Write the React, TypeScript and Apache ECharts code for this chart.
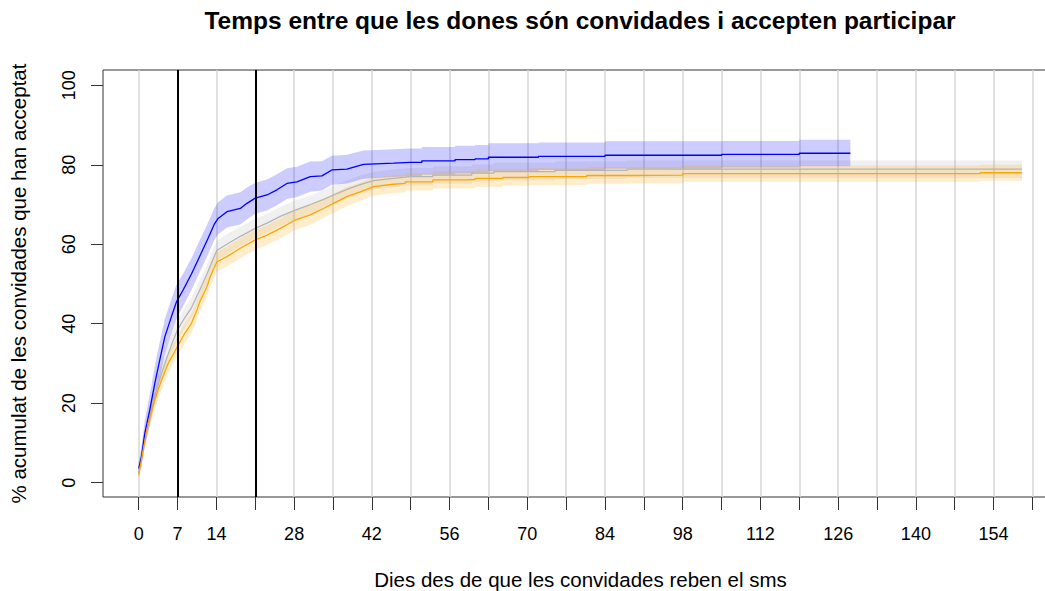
import React, { useEffect, useRef } from "react";
import * as echarts from "echarts";

// ---- axis ticks / labels ----
const xTickValues = [0, 7, 14, 21, 28, 35, 42, 49, 56, 63, 70, 77, 84, 91, 98, 105, 112, 119, 126, 133, 140, 147, 154, 161];
const xLabelValues = [0, 7, 14, 28, 42, 56, 70, 84, 98, 112, 126, 140, 154];
const yTickValues = [0, 20, 40, 60, 80, 100];
const markerDays = [7, 21];

// ---- blue group ----
const blueDays = [0, 0.5, 1.1, 2.0, 2.9, 3.8, 4.7, 5.9, 6.8, 8.0, 9.5, 11.0, 12.5, 13.6, 14.3, 15.9, 18.3, 19.5, 21.0, 23.1, 24.9, 26.7, 28.5, 30.9, 33.0, 34.8, 37.5, 40.5, 45.9, 48.9, 51, 51, 57, 57, 60.6, 60.6, 63, 63, 72, 72, 84, 84, 105, 105, 119, 119, 128.2];
const blueEst = [3.6, 6.5, 12.4, 18.3, 25.0, 30.9, 36.7, 41.8, 45.5, 48.5, 52.5, 57.0, 61.5, 65.0, 66.5, 68.2, 69.0, 70.3, 71.6, 72.4, 73.7, 75.3, 75.7, 77.0, 77.2, 78.7, 78.9, 80.1, 80.4, 80.6, 80.6, 81.0, 81.0, 81.3, 81.3, 81.5, 81.5, 81.9, 81.9, 82.1, 82.1, 82.4, 82.4, 82.6, 82.6, 82.9, 82.9];
const blueLo = [2.1, 4.0, 9.0, 14.4, 20.6, 26.4, 32.2, 37.4, 41.2, 44.4, 48.5, 53.0, 57.5, 61.0, 62.5, 64.2, 65.0, 66.3, 67.7, 68.5, 69.8, 71.4, 71.9, 73.2, 73.5, 75.0, 75.3, 76.5, 76.9, 77.1, 77.1, 77.5, 77.5, 77.8, 77.8, 78.0, 78.0, 78.4, 78.4, 78.7, 78.7, 79.0, 79.0, 79.3, 79.3, 79.6, 79.6];
const blueHi = [5.1, 9.0, 15.8, 22.2, 29.4, 35.4, 41.2, 46.2, 49.8, 52.6, 56.5, 61.0, 65.5, 69.0, 70.6, 72.3, 73.1, 74.3, 75.5, 76.3, 77.6, 79.1, 79.5, 80.8, 80.9, 82.3, 82.5, 83.6, 83.9, 84.1, 84.1, 84.5, 84.5, 84.8, 84.8, 85.0, 85.0, 85.4, 85.4, 85.6, 85.6, 85.9, 85.9, 86.0, 86.0, 86.3, 86.3];

// ---- orange group ----
const orangeDays = [0, 0.8, 1.7, 2.9, 4.1, 5.3, 6.8, 8.3, 9.5, 10.5, 11.0, 12.3, 12.8, 13.4, 14.1, 15.9, 18.3, 21.0, 23.1, 25.5, 28.2, 30.9, 33.3, 35.1, 37.5, 39.9, 42.3, 45.9, 48, 48, 53, 53, 59, 59, 60.6, 60.6, 65.6, 65.6, 70.3, 70.3, 80.7, 80.7, 88.5, 88.5, 98, 98, 151.6, 151.6, 159.1];
const orangeEst = [1.9, 8.2, 14.9, 20.8, 25.8, 30.0, 33.8, 37.6, 40.1, 43.5, 45.5, 49.3, 51.5, 53.5, 55.6, 56.9, 59.0, 61.1, 62.3, 64.0, 66.1, 67.4, 69.0, 70.3, 72.0, 73.2, 74.5, 75.1, 75.3, 75.7, 75.7, 76.2, 76.2, 76.3, 76.3, 76.6, 76.6, 76.8, 76.8, 77.0, 77.0, 77.3, 77.3, 77.4, 77.4, 77.75, 77.75, 78.0, 78.0];
const orangeLo = [1.0, 6.7, 12.9, 18.5, 23.3, 27.5, 31.3, 35.1, 37.6, 41.0, 43.0, 46.8, 49.0, 51.0, 53.1, 54.4, 56.5, 58.6, 59.8, 61.5, 63.6, 64.9, 66.6, 67.9, 69.6, 70.9, 72.2, 72.9, 73.1, 73.5, 73.5, 74.0, 74.0, 74.1, 74.1, 74.4, 74.4, 74.7, 74.7, 74.9, 74.9, 75.2, 75.2, 75.3, 75.3, 75.7, 75.7, 76.0, 76.0];
const orangeHi = [2.8, 9.7, 16.9, 23.1, 28.3, 32.5, 36.3, 40.1, 42.6, 46.0, 48.0, 51.8, 54.0, 56.0, 58.1, 59.4, 61.5, 63.6, 64.8, 66.5, 68.6, 69.9, 71.4, 72.7, 74.4, 75.5, 76.8, 77.3, 77.5, 77.9, 77.9, 78.4, 78.4, 78.5, 78.5, 78.8, 78.8, 78.9, 78.9, 79.1, 79.1, 79.4, 79.4, 79.5, 79.5, 79.8, 79.8, 80.0, 80.0];

// ---- grey (overall) group ----
const greyDays = [0, 0.5, 1.1, 2.0, 2.9, 4.0, 5.0, 6.0, 7.0, 8.3, 9.5, 11.0, 12.3, 13.4, 14.1, 15.9, 18.3, 21.0, 23.1, 25.5, 28.2, 30.9, 33.3, 35.1, 37.5, 39.9, 42.3, 45.9, 48.9, 53, 53, 60, 60, 64, 64, 75, 75, 88, 88, 159.1];
const greyEst = [2.5, 6.8, 11.5, 17.0, 22.0, 27.0, 31.2, 35.0, 38.5, 41.5, 44.0, 48.5, 52.5, 56.3, 58.5, 60.0, 62.0, 64.0, 65.3, 67.0, 68.6, 70.0, 71.3, 72.4, 73.8, 75.0, 76.0, 76.6, 77.0, 77.0, 77.4, 77.4, 77.9, 77.9, 78.3, 78.3, 78.6, 78.6, 78.9, 78.9];
const greyLo = [1.3, 5.0, 9.3, 14.6, 19.5, 24.5, 28.7, 32.5, 36.0, 39.0, 41.5, 46.0, 50.0, 53.8, 56.0, 57.5, 59.6, 61.6, 62.9, 64.6, 66.2, 67.7, 69.0, 70.1, 71.5, 72.7, 73.8, 74.4, 74.8, 74.8, 75.2, 75.2, 75.7, 75.7, 76.1, 76.1, 76.4, 76.4, 76.7, 76.7];
const greyHi = [3.7, 8.6, 13.7, 19.4, 24.5, 29.5, 33.7, 37.5, 41.0, 44.0, 46.5, 51.0, 55.0, 58.8, 61.0, 62.5, 64.4, 66.4, 67.7, 69.4, 71.0, 72.3, 73.6, 74.7, 76.1, 77.3, 78.2, 78.8, 79.2, 79.2, 79.6, 79.6, 80.1, 80.1, 80.5, 80.5, 80.8, 80.8, 81.1, 81.1];

const TITLE = "Temps entre que les dones són convidades i accepten participar";
const X_NAME = "Dies des de que les convidades reben el sms";
const Y_NAME = "% acumulat de les convidades que han acceptat";
const FONT = "'Liberation Sans', Arial, Helvetica, sans-serif";

function bandSeries(name: string, days: number[], lo: number[], hi: number[], color: string) {
  return {
    name,
    type: "custom",
    coordinateSystem: "cartesian2d",
    silent: true,
    clip: true,
    data: days.map((d, i) => [d, lo[i], hi[i]]),
    encode: { x: 0, y: [1, 2] },
    renderItem: (params: any, api: any) => {
      if (params.dataIndex !== 0) return null;
      const pts: number[][] = [];
      for (let i = 0; i < days.length; i++) pts.push(api.coord([days[i], hi[i]]));
      for (let i = days.length - 1; i >= 0; i--) pts.push(api.coord([days[i], lo[i]]));
      return { type: "polygon", shape: { points: pts }, style: { fill: color, stroke: "none" } };
    },
  };
}

function lineSeries(name: string, days: number[], est: number[], color: string, width: number, extra: any = {}) {
  return {
    name,
    type: "line",
    silent: true,
    showSymbol: false,
    symbol: "none",
    data: days.map((d, i) => [d, est[i]]),
    lineStyle: { color, width },
    ...extra,
  };
}

export default function App() {
  const ref = useRef<HTMLDivElement>(null);
  useEffect(() => {
    const chart = echarts.init(ref.current as HTMLDivElement, null, { renderer: "svg" });
    chart.setOption({
      animation: false,
      backgroundColor: "#ffffff",
      textStyle: { fontFamily: FONT },
      title: {
        text: TITLE,
        left: 580,
        top: 8,
        padding: 0,
        textAlign: "center",
        textStyle: { fontFamily: FONT, fontSize: 24.5, fontWeight: "bold", color: "#000" },
      },
      grid: {
        left: 103,
        top: 70,
        right: -13,
        bottom: 94,
        show: true,
        borderColor: "#333",
        borderWidth: 1,
        backgroundColor: "transparent",
        outerBoundsMode: "none",
      },
      xAxis: {
        type: "value",
        min: -6.43,
        max: 165.6,
        name: X_NAME,
        nameLocation: "middle",
        nameGap: 72,
        nameTextStyle: { fontFamily: FONT, fontSize: 20.5, color: "#000" },
        axisLine: { show: false, onZero: false },
        axisTick: { show: true, length: 13, customValues: xTickValues, lineStyle: { color: "#333", width: 1 } },
        axisLabel: { customValues: xLabelValues, margin: 28, fontFamily: FONT, fontSize: 18, color: "#000" },
        splitLine: { show: true, lineStyle: { color: "#d6d6d6", width: 1.5 } },
      },
      yAxis: {
        type: "value",
        min: -3.6,
        max: 103.85,
        name: Y_NAME,
        nameLocation: "middle",
        nameGap: 74,
        nameTextStyle: { fontFamily: FONT, fontSize: 20.5, color: "#000" },
        axisLine: { show: false, onZero: false },
        axisTick: { show: true, length: 12, customValues: yTickValues, lineStyle: { color: "#333", width: 1 } },
        axisLabel: { customValues: yTickValues, rotate: 90, margin: 25, fontFamily: FONT, fontSize: 18, color: "#000" },
        splitLine: { show: false },
      },
      series: [
        bandSeries("grey band", greyDays, greyLo, greyHi, "rgba(150,150,150,0.14)"),
        lineSeries("grey", greyDays, greyEst, "#b4b4b4", 1.3),
        bandSeries("blue band", blueDays, blueLo, blueHi, "rgba(0,0,255,0.2)"),
        lineSeries("blue", blueDays, blueEst, "#0000ff", 1.3),
        bandSeries("orange band", orangeDays, orangeLo, orangeHi, "rgba(255,165,0,0.2)"),
        lineSeries("orange", orangeDays, orangeEst, "#ffa500", 1.3, {
          markLine: {
            silent: true,
            symbol: ["none", "none"],
            label: { show: false },
            lineStyle: { color: "#000", width: 2, type: "solid" },
            data: markerDays.map((d) => ({ xAxis: d })),
          },
        }),
      ],
    });
    return () => chart.dispose();
  }, []);
  return <div ref={ref} style={{ position: "fixed", left: 0, top: 0, width: 1045, height: 591 }} />;
}
